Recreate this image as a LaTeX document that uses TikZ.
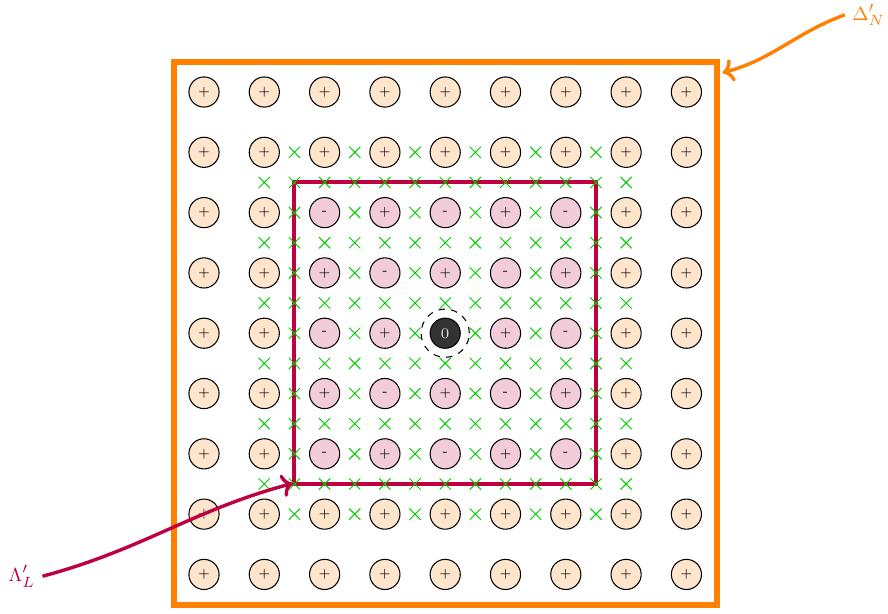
\documentclass[tikz,border=0pt]{standalone}
\usetikzlibrary{shapes.misc,arrows.meta}
\begin{document}
\begin{tikzpicture}[x=1cm,y=1cm,
  site/.style={circle,draw=black,line width=0.5pt,minimum size=0.5cm,inner sep=0pt,font=\fontsize{6}{7}\selectfont},
  outsite/.style={site,fill=orange!20},
  insite/.style={site,fill=purple!20},
  xmark/.style={cross out,draw=green!80!black,line width=0.45pt,minimum size=0.17cm,inner sep=0pt},
  lbl/.style={font=\fontsize{9.5}{11}\selectfont}
]
\useasboundingbox (-3.383,-8.640) rectangle (11.343,1.526);
% rectangles
\coordinate (Onw) at (-0.5,0.5);
\coordinate (Ose) at (8.5,-8.5);
\coordinate (Inw) at (1.5,-1.5);
\coordinate (Ise) at (6.5,-6.5);
\draw[orange,line width=2.8pt] (Onw) rectangle (Ose);
\draw[purple,line width=1.9pt] (Inw) rectangle (Ise);
% crosses
\foreach \a in {2,...,14}{\foreach \b in {2,...,14}{
  \pgfmathtruncatemacro{\both}{(mod(\a,2)==0)&&(mod(\b,2)==0)}
  \ifnum\both=0 \node[xmark] (x-\a-\b) at (\a/2,-\b/2) {};\fi
}}
% circles
\foreach \i in {0,...,8}{\foreach \j in {0,...,8}{
  \pgfmathtruncatemacro{\ins}{(\i>1)&&(\i<7)&&(\j>1)&&(\j<7)}
  \pgfmathtruncatemacro{\ctr}{(\i==4)&&(\j==4)}
  \pgfmathtruncatemacro{\p}{mod(\i+\j,2)}
  \ifnum\ctr=1
    \node[site,fill=black!80,text=white!90!black,font=\fontsize{7}{8}\selectfont] (c-\i-\j) at (\i,-\j) {0};
    \draw[dashed,line width=0.5pt] (c-\i-\j.center) circle (0.4);
  \else\ifnum\ins=1
    \ifnum\p=1
      \node[insite] (c-\i-\j) at (\i,-\j) {+};
    \else
      \node[insite] (c-\i-\j) at (\i,-\j) {-};
    \fi
  \else
    \node[outsite] (c-\i-\j) at (\i,-\j) {+};
  \fi\fi
}}
% labels and arrows
\node[lbl,text=orange] (DN) at (11.02,1.28) {$\Delta'_N$};
\node[lbl,text=purple] (LL) at (-3.02,-8.03) {$\Lambda'_L$};
\coordinate (DNt) at (8.6,0.32);
\coordinate (LLt) at (1.47,-6.49);
\draw[orange,line width=1.6pt,->] (DN.west) to[out=200,in=15] (DNt);
\draw[purple,line width=1.6pt,->] (LL.east) to[out=15,in=195] (LLt);
\end{tikzpicture}
\end{document}
